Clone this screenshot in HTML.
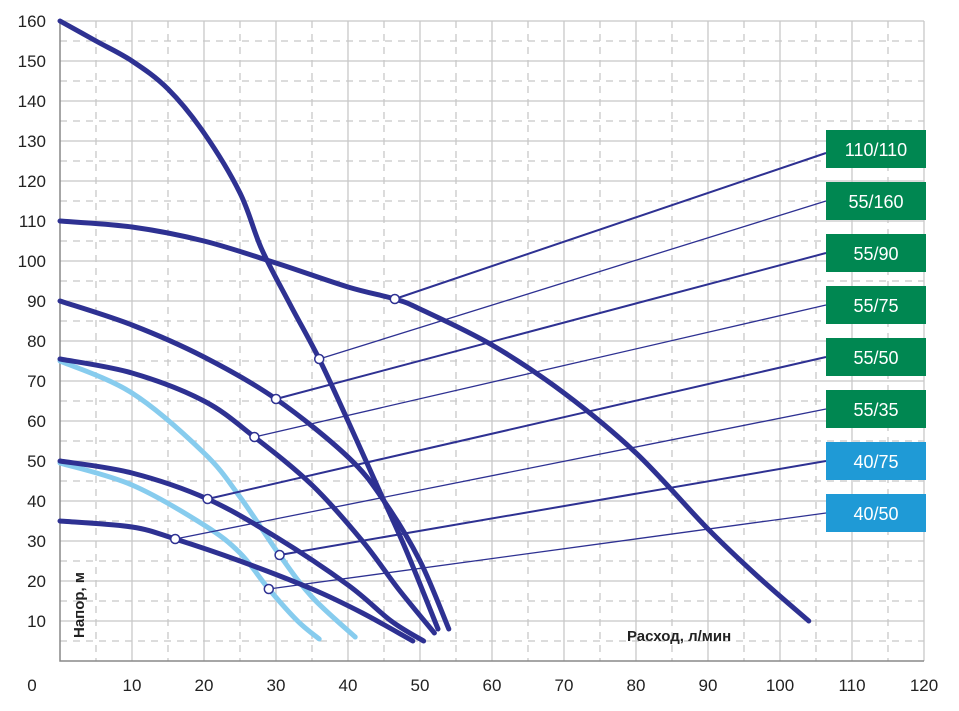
<!DOCTYPE html>
<html><head><meta charset="utf-8"><style>
body{margin:0;background:#fff}
svg text{font-family:"Liberation Sans","DejaVu Sans",sans-serif}
</style></head><body>
<svg id="c" width="959" height="706" xmlns="http://www.w3.org/2000/svg"></svg>
<script>
const xTicks=[0,10,20,30,40,50,60,70,80,90,100,110,120];
const yTicks=[10,20,30,40,50,60,70,80,90,100,110,120,130,140,150,160];
const seriesNames=["110/110","55/160","55/90","55/75","55/50","55/35","40/75","40/50"];
const seriesLight=[false,false,false,false,false,false,true,true];
const s110_110=[[0,110],[10,108.5],[20,105],[30,99.5],[40,93.5],[46.5,90.5],[50,88],[60,79],[70,67],[80,52],[90,33],[97,21],[104,10]];
const s55_160=[[0,160],[5,155],[10,150],[15,143],[20,132],[25,117],[28,103],[32,89],[36,75.5],[40,60],[44,44],[48,28],[52.5,8]];
const s55_90=[[0,90],[10,84],[20,76],[30,65.5],[40,51],[45,40],[50,25],[54,8]];
const s55_75=[[0,75.5],[10,72],[20,65],[27,56],[35,44],[42,30],[47,18],[52,7]];
const s55_50=[[0,50],[10,47],[20.5,40.5],[30,31],[40,19],[46,10],[50.5,5]];
const s55_35=[[0,35],[10,33.5],[16,30.5],[25,25],[35,18],[42,12],[49,5]];
const s40_75=[[0,75],[10,67],[20,52],[25,41],[30.5,26.5],[35,16],[41,6]];
const s40_50=[[0,49.5],[10,44],[20,34],[25,27],[29,18],[33,10],[36,5.5]];
const seriesData=[s110_110,s55_160,s55_90,s55_75,s55_50,s55_35,s40_75,s40_50];
const markerPts=[[46.5,90.5],[36,75.5],[30,65.5],[27,56],[20.5,40.5],[16,30.5],[30.5,26.5],[29,18]];
const NS="http://www.w3.org/2000/svg";
const svg=document.getElementById('c');
const X=v=>60+v*7.2, Y=v=>661-v*4;
function el(t,a,p){const e=document.createElementNS(NS,t);for(const k in a)e.setAttribute(k,a[k]);(p||svg).appendChild(e);return e;}
// grid
for(let v=5;v<=120;v+=5){const g=el('line',{x1:X(v),x2:X(v),y1:Y(160),y2:Y(0),stroke:'#c8c8c8','stroke-width':1.3,'stroke-dasharray':v%10?'7,6':'none'});

}
for(let v=5;v<=160;v+=5){const g=el('line',{x1:X(0),x2:X(120),y1:Y(v),y2:Y(v),stroke:'#c8c8c8','stroke-width':1.3,'stroke-dasharray':v%10?'7,6':'none'});

}
const ax=el('path',{d:`M${X(0)},${Y(160)}V${Y(0)}H${X(120)}`,fill:'none',stroke:'#888','stroke-width':1.5});


xTicks.forEach(v=>{const t=el('text',{x:v===0?32:X(v),y:691,'text-anchor':'middle','font-size':17,fill:'#222'});t.textContent=v;

});
yTicks.forEach(v=>{const t=el('text',{x:46,y:Y(v)+6,'text-anchor':'end','font-size':17,fill:'#222'});t.textContent=v;

});
const yt=el('text',{x:0,y:0,transform:'translate(84,638) rotate(-90)','font-size':15,'font-weight':'bold',fill:'#222'});yt.textContent='Напор, м';


const xt=el('text',{x:627,y:641,'font-size':15,'font-weight':'bold',fill:'#222'});xt.textContent='Расход, л/мин';


function smooth(pts){let d=`M${X(pts[0][0])},${Y(pts[0][1])}`;for(let i=0;i<pts.length-1;i++){const p0=pts[Math.max(i-1,0)],p1=pts[i],p2=pts[i+1],p3=pts[Math.min(i+2,pts.length-1)];
const c1=[X(p1[0])+(X(p2[0])-X(p0[0]))/6,Y(p1[1])+(Y(p2[1])-Y(p0[1]))/6],c2=[X(p2[0])-(X(p3[0])-X(p1[0]))/6,Y(p2[1])-(Y(p3[1])-Y(p1[1]))/6];
d+=`C${c1[0]},${c1[1]} ${c2[0]},${c2[1]} ${X(p2[0])},${Y(p2[1])}`;}return d;}
// curves (light first)
[6,7,0,1,2,3,4,5].forEach(i=>{const p=el('path',{d:smooth(seriesData[i]),fill:'none',stroke:seriesLight[i]?'#87ccee':'#2e3192','stroke-width':5,'stroke-linecap':'round'});

});
// labels
seriesNames.forEach((n,i)=>{const by=130+i*52;const cy=by+19;const m=markerPts[i];
const l=el('line',{x1:X(m[0]),y1:Y(m[1]),x2:826,y2:cy+(i===0?4:0),stroke:'#2e3192','stroke-width':i%2?1.3:2});


const c=el('circle',{cx:X(m[0]),cy:Y(m[1]),r:4.5,fill:'#fff',stroke:'#2e3192','stroke-width':1.5});


const r=el('rect',{x:826,y:by,width:100,height:38,fill:seriesLight[i]?'#1f9ad6':'#008751'});


const t=el('text',{x:876,y:by+26,'text-anchor':'middle','font-size':18,fill:'#fff'});t.textContent=n;

});
</script>
</body></html>
